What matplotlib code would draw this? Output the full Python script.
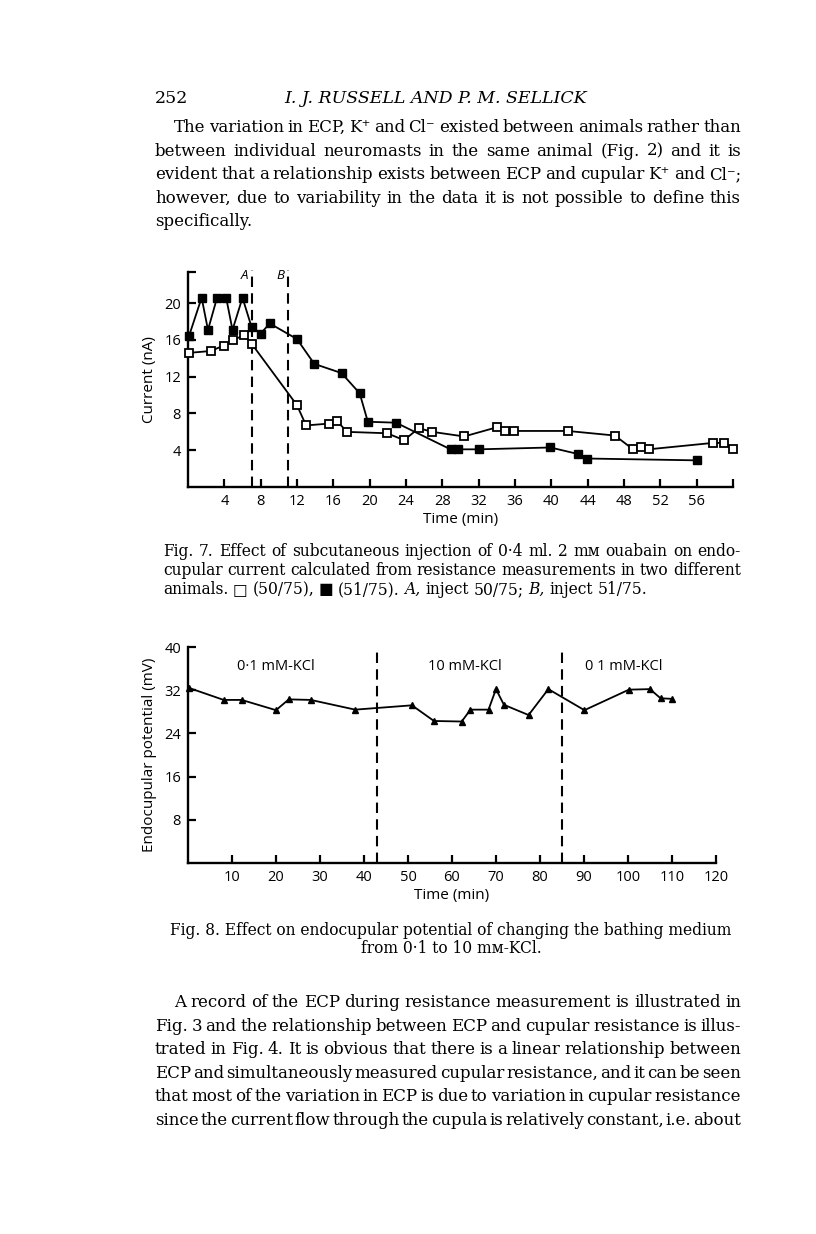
import matplotlib
matplotlib.use("Agg")
import matplotlib.pyplot as plt

W, H = 816, 1234

# Fig. 7 data: current (nA) vs time (min)
t_open = [0.1, 2.5, 3.95, 4.9, 6.2, 7.0, 12.0, 13.0, 15.5, 16.4, 17.5, 21.9, 23.8,
          25.4, 26.9, 30.4, 34.0, 34.9, 35.9, 41.8, 47.0, 49.0, 49.9, 50.7, 57.8, 59.0, 60.0]
i_open = [14.6, 14.8, 15.4, 16.0, 16.5, 15.6, 8.9, 6.7, 6.9, 7.2, 6.0, 5.85, 5.1,
          6.4, 6.0, 5.5, 6.5, 6.1, 6.1, 6.1, 5.6, 4.1, 4.4, 4.1, 4.8, 4.8, 4.1]
t_fill = [0.1, 1.5, 2.2, 3.2, 4.2, 4.9, 6.0, 7.0, 8.0, 9.0, 12.0, 13.9, 16.9, 18.9,
          19.8, 22.9, 28.9, 29.7, 32.0, 39.9, 42.9, 43.95, 56.0]
i_fill = [16.4, 20.6, 17.1, 20.6, 20.6, 17.1, 20.6, 17.4, 16.7, 17.8, 16.1, 13.4, 12.4,
          10.2, 7.1, 7.0, 4.1, 4.1, 4.1, 4.3, 3.6, 3.1, 2.9]
inject_t = [7, 11]
inject_lbl = ["A", "B"]

# Fig. 8 data: endocupular potential (mV) vs time (min)
t_ecp = [0.3, 8.1, 12.2, 20.0, 22.9, 27.9, 38.0, 50.9, 55.9, 62.2, 64.2, 68.3, 70.0,
         71.8, 77.4, 81.9, 90.1, 100.2, 105.0, 107.4, 110.0]
v_ecp = [32.4, 30.2, 30.2, 28.3, 30.3, 30.2, 28.4, 29.2, 26.3, 26.2, 28.4, 28.4, 32.2,
         29.3, 27.4, 32.2, 28.3, 32.1, 32.2, 30.5, 30.4]
switch_t = [43, 85]
medium_lbl = ["0·1 mM-KCl", "10 mM-KCl", "0 1 mM-KCl"]
medium_x = [20, 63, 99]

para1 = ["The variation in ECP, K⁺ and Cl⁻ existed between animals rather than",
         "between individual neuromasts in the same animal (Fig. 2) and it is",
         "evident that a relationship exists between ECP and cupular K⁺ and Cl⁻;",
         "however, due to variability in the data it is not possible to define this",
         "specifically."]
cap7 = ["Fig. 7. Effect of subcutaneous injection of 0·4 ml. 2 mᴍ ouabain on endo-",
        "cupular current calculated from resistance measurements in two different",
        "animals. □ (50/75), ■ (51/75). _A, inject 50/75; _B, inject 51/75."]
cap8 = ["Fig. 8. Effect on endocupular potential of changing the bathing medium",
        "from 0·1 to 10 mᴍ-KCl."]
para2 = ["A record of the ECP during resistance measurement is illustrated in",
         "Fig. 3 and the relationship between ECP and cupular resistance is illus-",
         "trated in Fig. 4. It is obvious that there is a linear relationship between",
         "ECP and simultaneously measured cupular resistance, and it can be seen",
         "that most of the variation in ECP is due to variation in cupular resistance",
         "since the current flow through the cupula is relatively constant, i.e. about"]

SERIF = ["DejaVu Serif", "DejaVu Sans"]
SANS = ["Open Sans", "DejaVu Sans"]

fig = plt.figure(figsize=(W / 100, H / 100), dpi=100)
fig.patch.set_facecolor("white")
r = fig.canvas.get_renderer()


def fx(x):
    return x / W


def fy(y):
    return 1 - y / H


def line_text(words, x0, x1, y, fs, justify=True):
    # place words one by one so the line fills x0..x1
    objs = []
    for w in words.split(" "):
        style = "normal"
        if w.startswith("_"):
            w, style = w[1:], "italic"
        objs.append(fig.text(0, fy(y), w, fontsize=fs, family=SERIF,
                             style=style, va="baseline"))
    widths = [o.get_window_extent(r).width for o in objs]
    if justify and len(objs) > 1:
        gap = (x1 - x0 - sum(widths)) / (len(objs) - 1)
    else:
        gap = fs * 100 / 72 * 0.3
    x = x0
    for o, wd in zip(objs, widths):
        o.set_x(fx(x))
        x += wd + gap


L, R = 155, 741

# running header
fig.text(fx(L), fy(103), "252", fontsize=12.5, family=SERIF, va="baseline")
fig.text(fx((L + R) / 2 - 12), fy(103), "I. J. RUSSELL AND P. M. SELLICK",
         fontsize=12.5, family=SERIF, style="italic", va="baseline", ha="center")

for k, ln in enumerate(para1):
    y = 132 + k * 23.6
    line_text(ln, L + 19 if k == 0 else L, R, y, 12, justify=k < len(para1) - 1)

for k, ln in enumerate(cap7):
    y = 556 + k * 19
    line_text(ln, 163, R, y, 11.2, justify=k < 2)

for k, ln in enumerate(cap8):
    fig.text(fx(451), fy(935 + k * 18), ln, fontsize=11.2, family=SERIF,
             ha="center", va="baseline")

for k, ln in enumerate(para2):
    y = 1007 + k * 23.6
    line_text(ln, L + 19 if k == 0 else L, R, y, 12)


def style_axes(ax):
    for s in ["top", "right"]:
        ax.spines[s].set_visible(False)
    for s in ["left", "bottom"]:
        ax.spines[s].set_linewidth(1.7)
    ax.tick_params(direction="in", length=6, width=1.6, labelsize=10.5, pad=5)
    for lab in ax.get_xticklabels() + ax.get_yticklabels():
        lab.set_family(SANS)


# Fig. 7
ax1 = fig.add_axes([fx(188), fy(487), (733 - 188) / W, (487 - 272) / H])
ax1.set_xlim(0, 60)
ax1.set_ylim(0, 23.4)
for t, lb in zip(inject_t, inject_lbl):
    ax1.axvline(t, ymin=0, ymax=1.01, color="black", lw=1.5,
                ls=(0, (5, 3)), clip_on=False)
    ax1.text(t - 0.4, 23.0, lb, ha="right", va="center", fontsize=9.5,
             style="italic", family=SANS)
ax1.plot(t_open, i_open, "-", color="black", lw=1.3, marker="s", ms=5.5,
         mfc="white", mec="black", mew=1.3, clip_on=False, zorder=3)
ax1.plot(t_fill, i_fill, "-", color="black", lw=1.3, marker="s", ms=5.5,
         mfc="black", mec="black", clip_on=False, zorder=3)
ax1.set_xticks(range(4, 61, 4))
ax1.set_xticklabels([str(v) for v in range(4, 57, 4)] + [""])
ax1.set_yticks([4, 8, 12, 16, 20, 23.4])
ax1.set_yticklabels(["4", "8", "12", "16", "20", ""])
ax1.set_xlabel("Time (min)", fontsize=11, family=SANS, labelpad=2)
ax1.set_ylabel("Current (nA)", fontsize=11, family=SANS, labelpad=5)
style_axes(ax1)

# Fig. 8
ax2 = fig.add_axes([fx(188), fy(863), (716 - 188) / W, (863 - 647) / H])
ax2.set_xlim(0, 120)
ax2.set_ylim(0, 40)
for t in switch_t:
    ax2.axvline(t, color="black", lw=1.5, ls=(0, (5, 3)))
for xm, lb in zip(medium_x, medium_lbl):
    ax2.text(xm, 36.4, lb, ha="center", va="center", fontsize=10.5, family=SANS)
ax2.plot(t_ecp, v_ecp, "-", color="black", lw=1.3, marker="^", ms=4.5,
         mfc="black", mec="black", clip_on=False, zorder=3)
ax2.set_xticks(range(10, 121, 10))
ax2.set_yticks([8, 16, 24, 32, 40])
ax2.set_xlabel("Time (min)", fontsize=11, family=SANS, labelpad=2)
ax2.set_ylabel("Endocupular potential (mV)", fontsize=11, family=SANS, labelpad=5)
style_axes(ax2)

fig.savefig("out.png", dpi=100, facecolor="white")
